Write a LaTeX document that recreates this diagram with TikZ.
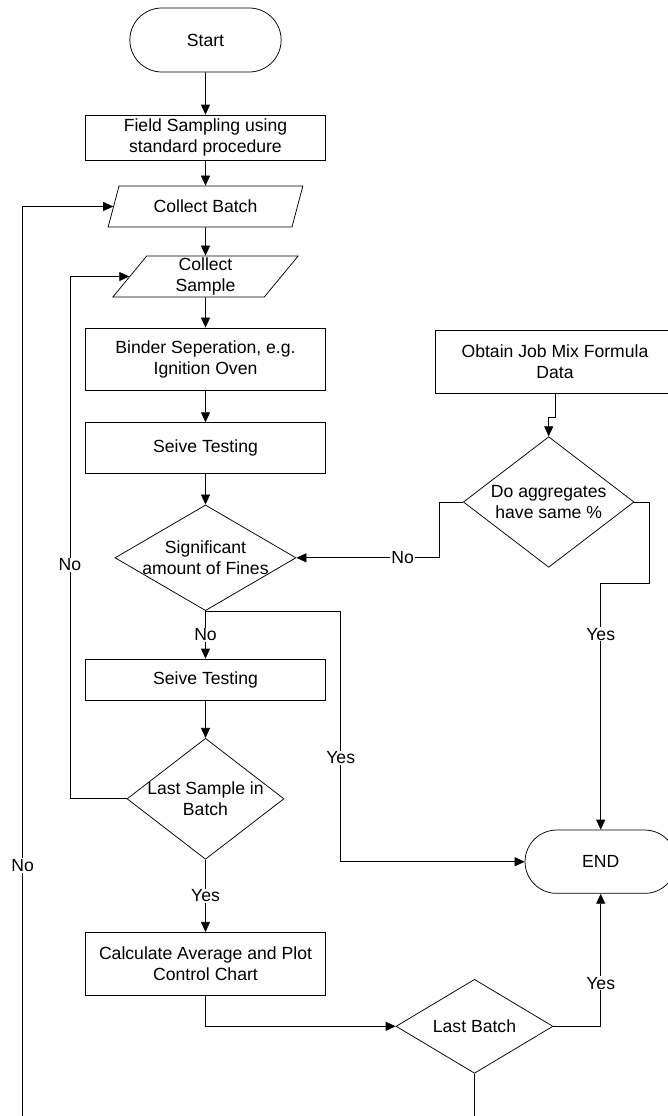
\documentclass[tikz,border=0pt]{standalone}
\usepackage{fontspec}
\setmainfont{Liberation Sans}
\usetikzlibrary{arrows.meta, shapes.geometric, shapes.misc, positioning}

\begin{document}
\begin{tikzpicture}[x=1pt, y=-1pt, >={Triangle[length=10pt,width=9pt]}, line width=0.75pt,
	every node/.style={font=\fontsize{17.6}{21.5}\selectfont},
	terminal/.style={rounded rectangle, draw, minimum width=158, minimum height=64},
	process/.style={rectangle, draw, minimum width=240, align=center, inner sep=1pt},
	datain/.style={trapezium, draw, trapezium left angle=66, trapezium right angle=114,
		trapezium stretches=true, minimum height=41, align=center, inner sep=1pt},
	decision/.style={diamond, draw, inner sep=0pt},
	lbl/.style={fill=white, inner sep=1pt}]
		\useasboundingbox (0,0) rectangle (668,1116);
		\clip (0,0) rectangle (668,1116);
		
		\node[terminal] (start) at (205.5,40) {Start};
		\node[process, minimum height=45] (field) at (205.5,137.5) {Field Sampling using\\standard procedure};
		\node[datain, minimum width=195] (batch) at (205.5,206.5) {Collect Batch};
		\node[datain, minimum width=187] (sample) at (205.5,276.5) {Collect\\Sample};
		\node[process, minimum height=62.7] (binder) at (205.5,359.3) {Binder Seperation, e.g.\\Ignition Oven};
		\node[process, minimum height=50.3] (seive) at (205.5,447.8) {Seive Testing};
		\node[decision, minimum width=181, minimum height=105.7,
			label={[align=center]center:Significant\\amount of Fines}] (fines) at (205.5,557.8) {};
		\node[process, minimum height=41] (seiveb) at (205.5,679.5) {Seive Testing};
		\node[decision, minimum width=157, minimum height=121,
			label={[align=center]center:Last Sample in\\Batch}] (lastsample) at (205.5,798.8) {};
		\node[process, minimum height=62.7] (calc) at (205.5,963.7) {Calculate Average and Plot\\Control Chart};
		\node[decision, minimum width=157, minimum height=94,
			label={center:Last Batch}] (lastbatch) at (474.5,1026.3) {};
		\node[terminal, minimum height=63.3] (stop) at (600.7,861.7) {END};
		\node[process, minimum height=63.3] (jmf) at (555,361.7) {Obtain Job Mix Formula\\Data};
		\node[decision, minimum width=170.7, minimum height=130.6,
			label={[align=center]center:Do aggregates\\have same \%}] (agg) at (548.7,502) {};
		
		% main column
		\draw[->] (start) -- (field);
		\draw[->] (field) -- (batch);
		\draw[->] (batch) -- (sample);
		\draw[->] (sample) -- (binder);
		\draw[->] (binder) -- (seive);
		\draw[->] (seive) -- (fines);
		\draw[->] (fines) -- node[lbl] {No} (seiveb);
		\draw[->] (seiveb) -- (lastsample);
		\draw[->] (lastsample) -- node[lbl] {Yes} (calc);
		\draw[->] (calc) |- (lastbatch);
		\draw[->] (lastbatch) -| node[lbl, pos=0.663] {Yes} (stop);
		
		% loops back
		\draw[->] (lastsample.west) -- ++(-56.7,0) |- node[lbl, pos=0.224] {No} (sample.west);
		\coordinate (loopend) at (22.6,1140);
		\draw[->] (lastbatch.south) |- (loopend) |- node[lbl, pos=0.147] {No} (batch.west);
		\draw[->] (fines.south) -- ++(135.2,0) |- node[lbl, pos=0.293] {Yes} (stop.west);
		
		% job mix side
		\draw[->] (jmf.south) -- ++(0,23.4) -| (agg.north);
		\draw[->] (agg.west) -- ++(-23.3,0) |- node[lbl, pos=0.629] {No} (fines.east);
		\coordinate (aggjog) at (600.7,583.3);
		\draw[->] (agg.east) -- ++(15.3,0) |- (aggjog) -- node[lbl, pos=0.207] {Yes} (stop.north);
\end{tikzpicture}
\end{document}
